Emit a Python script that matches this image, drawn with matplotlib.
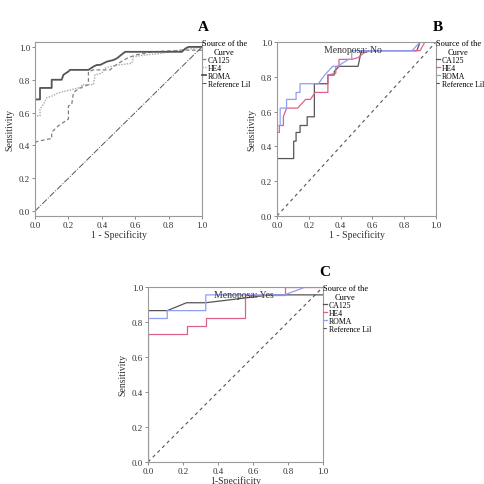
import matplotlib.pyplot as plt

plt.rcParams['font.family'] = ['Liberation Serif', 'DejaVu Serif']

# ---- data: ROC curves ----
# panel A (all patients)
a_roma_x = [0, 0, 0.03, 0.03, 0.10, 0.10, 0.16, 0.17, 0.20, 0.21, 0.32, 0.35, 0.37, 0.39, 0.43, 0.47, 0.49, 0.54, 0.88, 0.90, 0.92, 1.0]
a_roma_y = [0, 0.68, 0.68, 0.75, 0.75, 0.80, 0.80, 0.83, 0.85, 0.86, 0.86, 0.88, 0.89, 0.89, 0.91, 0.92, 0.93, 0.97, 0.97, 0.99, 1.0, 1.0]
a_he4_x = [0, 0, 0.03, 0.03, 0.05, 0.07, 0.10, 0.14, 0.18, 0.22, 0.26, 0.28, 0.28, 0.35, 0.36, 0.40, 0.42, 0.45, 0.50, 0.58, 0.59, 0.65, 0.75, 0.80, 0.95, 1.0]
a_he4_y = [0, 0.58, 0.58, 0.62, 0.65, 0.69, 0.70, 0.72, 0.73, 0.74, 0.75, 0.75, 0.77, 0.77, 0.83, 0.84, 0.87, 0.88, 0.89, 0.90, 0.94, 0.95, 0.96, 0.97, 0.99, 1.0]
a_ca_x = [0, 0, 0.04, 0.09, 0.10, 0.10, 0.14, 0.17, 0.20, 0.20, 0.22, 0.23, 0.24, 0.27, 0.32, 0.32, 0.35, 0.45, 0.47, 0.50, 0.55, 0.60, 0.70, 0.88, 0.93, 1.0]
a_ca_y = [0, 0.42, 0.43, 0.44, 0.44, 0.48, 0.52, 0.54, 0.56, 0.64, 0.65, 0.72, 0.73, 0.75, 0.77, 0.85, 0.86, 0.86, 0.88, 0.90, 0.93, 0.95, 0.97, 0.98, 0.98, 0.98]

# panel B (Menoposa: No)
b_ca_x = [0, 0, 0.105, 0.105, 0.12, 0.12, 0.145, 0.145, 0.19, 0.19, 0.235, 0.235, 0.32, 0.32, 0.36, 0.36, 0.39, 0.51, 0.53, 0.88, 0.90, 1.0]
b_ca_y = [0, 0.33, 0.33, 0.43, 0.43, 0.48, 0.48, 0.52, 0.52, 0.57, 0.57, 0.76, 0.76, 0.81, 0.81, 0.83, 0.86, 0.86, 0.95, 0.95, 1.0, 1.0]
b_he4_x = [0, 0, 0.015, 0.015, 0.04, 0.04, 0.06, 0.13, 0.15, 0.18, 0.21, 0.24, 0.32, 0.32, 0.37, 0.37, 0.39, 0.39, 0.47, 0.51, 0.55, 0.60, 0.90, 0.93, 1.0]
b_he4_y = [0, 0.48, 0.48, 0.52, 0.52, 0.57, 0.62, 0.62, 0.64, 0.67, 0.67, 0.71, 0.71, 0.81, 0.82, 0.86, 0.86, 0.90, 0.90, 0.91, 0.94, 0.95, 0.95, 1.0, 1.0]
b_roma_x = [0, 0, 0.02, 0.02, 0.06, 0.06, 0.12, 0.12, 0.145, 0.145, 0.26, 0.30, 0.35, 0.38, 0.45, 0.47, 0.47, 0.85, 0.90, 1.0]
b_roma_y = [0, 0.52, 0.52, 0.62, 0.62, 0.67, 0.67, 0.71, 0.71, 0.76, 0.76, 0.81, 0.86, 0.86, 0.90, 0.90, 0.95, 0.95, 1.0, 1.0]

# panel C (Menoposa: Yes)
c_ca_x = [0, 0, 0.11, 0.22, 0.33, 0.70, 1.0]
c_ca_y = [0, 0.865, 0.865, 0.91, 0.91, 0.955, 0.955]
c_roma_x = [0, 0, 0.11, 0.11, 0.33, 0.33, 0.78, 0.90, 1.0]
c_roma_y = [0, 0.82, 0.82, 0.865, 0.865, 0.955, 0.955, 1.0, 1.0]
c_he4_x = [0, 0, 0.22, 0.22, 0.33, 0.33, 0.555, 0.555, 0.78, 0.78, 1.0]
c_he4_y = [0, 0.73, 0.73, 0.775, 0.775, 0.82, 0.82, 0.955, 0.955, 1.0, 1.0]

ref = [0, 1]
ticks = [0.0, 0.2, 0.4, 0.6, 0.8, 1.0]
tick_labels = ["0.0", "0.2", "0.4", "0.6", "0.8", "1.0"]

fig = plt.figure(figsize=(4.84, 4.85), dpi=100)
axA = fig.add_axes([0.0723, 0.5526, 0.345, 0.3588])
axB = fig.add_axes([0.5723, 0.5526, 0.3285, 0.3588])
axC = fig.add_axes([0.3058, 0.0454, 0.3616, 0.3608])


def style(ax, letter, xlabel, ylim):
    ax.set_xlim(0, 1)
    ax.set_ylim(*ylim)
    ax.set_xticks(ticks)
    ax.set_xticklabels(tick_labels)
    ax.set_yticks(ticks)
    ax.set_yticklabels(tick_labels)
    ax.tick_params(labelsize=6.5, length=2.5, width=0.6, pad=1,
                   colors="#333333", color="#777777")
    for s in ax.spines.values():
        s.set_color("#9a9a9a")
        s.set_linewidth(0.8)
    ax.set_xlabel(xlabel, fontsize=7, labelpad=0.5, color="#333333")
    ax.set_ylabel("Sensitivity", fontsize=7, labelpad=3, color="#333333")
    ax.text(1.01, 1.09, letter, transform=ax.transAxes, fontsize=11,
            fontweight="bold", ha="center", va="center")
    leg = ax.legend(loc="upper left", bbox_to_anchor=(0.995, 1.02),
                    frameon=False, title="Source of the\nCurve",
                    fontsize=5.6, title_fontsize=6.0, handlelength=0.6,
                    handletextpad=0.2, labelspacing=0.0, borderaxespad=0,
                    borderpad=0.05)
    leg._legend_box.align = "left"
    leg.get_title().set_multialignment("center")


# panel A
axA.plot(a_ca_x, a_ca_y, color="#808080", lw=0.9, ls=(0, (3, 2)), label="CA125")
axA.plot(a_he4_x, a_he4_y, color="#a8a8a8", lw=1.0, ls=(0, (1, 1)), label="HE4")
axA.plot(a_roma_x, a_roma_y, color="#555555", lw=1.3, label="ROMA")
axA.plot(ref, ref, color="#555555", lw=0.7, ls="-.", label="Reference Lil")
style(axA, "A", "1 - Specificity", (-0.03, 1.03))

# panel B
axB.plot(b_ca_x, b_ca_y, color="#555555", lw=0.9, label="CA125")
axB.plot(b_he4_x, b_he4_y, color="#e0608c", lw=0.9, label="HE4")
axB.plot(b_roma_x, b_roma_y, color="#8f9ff0", lw=0.9, label="ROMA")
axB.plot(ref, ref, color="#555555", lw=0.8, ls=(0, (3, 3)), label="Reference Lil")
axB.text(0.48, 0.985, "Menoposa: No", transform=axB.transAxes, fontsize=7,
         ha="center", va="top", color="#333333")
style(axB, "B", "1 - Specificity", (0, 1))

# panel C
axC.plot(c_ca_x, c_ca_y, color="#555555", lw=0.9, label="CA125")
axC.plot(c_he4_x, c_he4_y, color="#e0608c", lw=0.9, label="HE4")
axC.plot(c_roma_x, c_roma_y, color="#8f9ff0", lw=0.9, label="ROMA")
axC.plot(ref, ref, color="#555555", lw=0.8, ls=(0, (3, 3)), label="Reference Lil")
axC.text(0.55, 0.985, "Menoposa: Yes", transform=axC.transAxes, fontsize=7,
         ha="center", va="top", color="#333333")
style(axC, "C", "1-Specificity", (0, 1))

fig.savefig("out.png", dpi=100)
